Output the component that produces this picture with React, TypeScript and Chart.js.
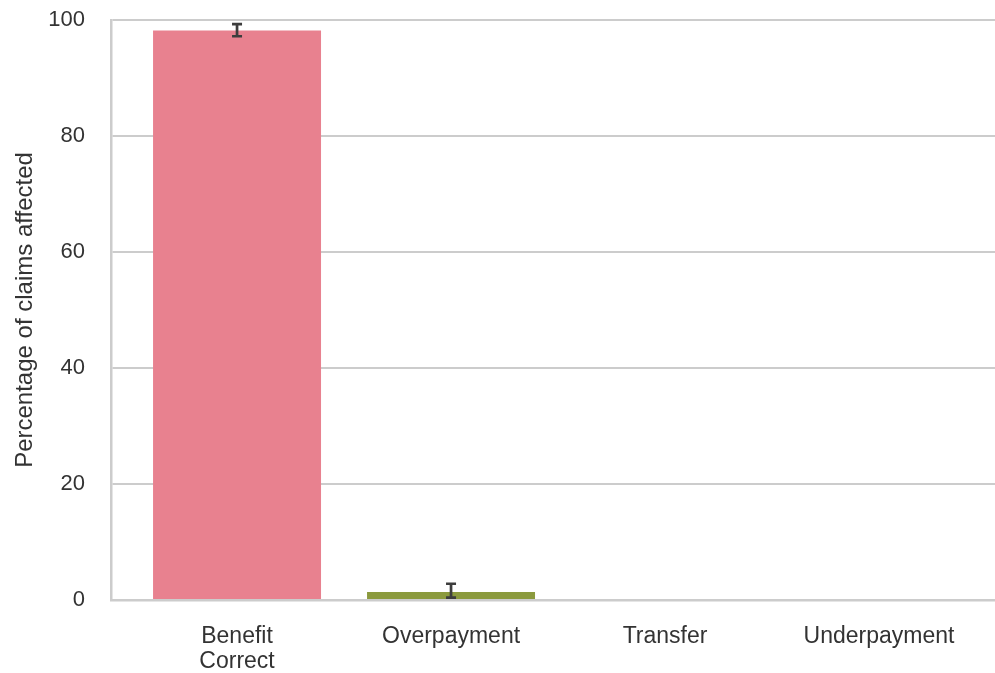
import React, { useEffect, useRef } from "react";
import { Chart, registerables } from "chart.js";

Chart.register(...registerables);

const categories: string[][] = [["Benefit", "Correct"], ["Overpayment"], ["Transfer"], ["Underpayment"]];
const positions = [0, 1, 2, 3];
const values = [98.2, 1.4, 0, 0];
const errLow = [97.2, 0.4, 0, 0];
const errHigh = [99.3, 2.8, 0, 0];
const colors = ["#e8818f", "#8b9a3d", "#36ada4", "#a48cf4"];
const yTicks = [0, 20, 40, 60, 80, 100];

const errorBarPlugin = {
  id: "errorBars",
  afterDatasetsDraw(chart: any) {
    const ctx = chart.ctx;
    const xs = chart.scales.x;
    const ys = chart.scales.y;
    ctx.save();
    ctx.strokeStyle = "#3d3d3d";
    ctx.lineWidth = 2.7;
    ctx.lineCap = "butt";
    positions.forEach((p, i) => {
      if (errHigh[i] === errLow[i]) return;
      const x = xs.getPixelForValue(p);
      const y1 = ys.getPixelForValue(errLow[i]);
      const y2 = ys.getPixelForValue(errHigh[i]);
      ctx.beginPath();
      ctx.moveTo(x, y1);
      ctx.lineTo(x, y2);
      ctx.moveTo(x - 5, y1);
      ctx.lineTo(x + 5, y1);
      ctx.moveTo(x - 5, y2);
      ctx.lineTo(x + 5, y2);
      ctx.stroke();
    });
    ctx.restore();
  },
};

export default function App() {
  const ref = useRef<HTMLCanvasElement | null>(null);
  useEffect(() => {
    if (!ref.current) return;
    const font = "'Liberation Sans', Arial, sans-serif";
    const chart = new Chart(ref.current, {
      type: "bar",
      data: {
        datasets: [
          {
            data: positions.map((p, i) => ({ x: p, y: values[i] })),
            backgroundColor: colors,
            borderWidth: 0,
            categoryPercentage: 1,
            barPercentage: 0.785,
          },
        ],
      },
      options: {
        animation: false,
        responsive: false,
        maintainAspectRatio: false,
        layout: { padding: { top: 20, right: 0, left: 0, bottom: 0 } },
        plugins: { legend: { display: false }, tooltip: { enabled: false } },
        scales: {
          x: {
            type: "linear",
            offset: false,
            min: -0.589,
            max: 3.542,
            afterBuildTicks: (s: any) => {
              s.ticks = positions.map((v) => ({ value: v }));
            },
            afterFit: (s: any) => {
              s.height = 73;
              s.paddingLeft = 0;
              s.paddingRight = 0;
              s.paddingTop = 0;
              s.paddingBottom = 0;
            },
            grid: { display: false, drawTicks: false },
            border: { display: true, color: "#cccccc", width: 2.5 },
            ticks: {
              autoSkip: false,
              maxRotation: 0,
              padding: 24,
              color: "#333333",
              font: { family: font, size: 23, lineHeight: 1.1 },
              callback: (v: any) => categories[positions.indexOf(Number(v))] ?? "",
            },
          },
          y: {
            min: 0,
            max: 100,
            afterBuildTicks: (s: any) => {
              s.ticks = yTicks.map((v) => ({ value: v }));
            },
            afterFit: (s: any) => {
              s.width = 111;
              s.paddingLeft = 0;
              s.paddingRight = 0;
              s.paddingTop = 0;
              s.paddingBottom = 0;
            },
            grid: { color: "#cccccc", lineWidth: 2, drawTicks: false },
            border: { display: true, color: "#cccccc", width: 2.5 },
            ticks: {
              padding: 26,
              color: "#333333",
              font: { family: font, size: 22 },
            },
            title: {
              display: true,
              text: "Percentage of claims affected",
              color: "#333333",
              font: { family: font, size: 24 },
              padding: { top: 11, bottom: 0 },
            },
          },
        },
      },
      plugins: [errorBarPlugin],
    } as any);
    return () => chart.destroy();
  }, []);
  return (
    <div style={{ position: "absolute", left: 0, top: 0, width: 995, height: 673, background: "#fff" }}>
      <canvas ref={ref} width={995} height={673} style={{ display: "block", width: 995, height: 673 }} />
    </div>
  );
}
